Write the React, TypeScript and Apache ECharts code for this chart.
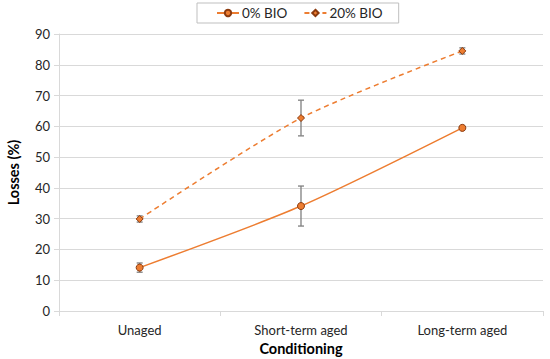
import React, { useEffect, useRef } from "react";
import * as echarts from "echarts";

const categories = ["Unaged", "Short-term aged", "Long-term aged"];
const bio0 = [14.1, 34.1, 59.5];
const bio0Err = [1.5, 6.5, 0.6];
const bio20 = [29.9, 62.7, 84.5];
const bio20Err = [1.0, 5.8, 1.0];
const yTicks = { min: 0, max: 90, interval: 10 };

const FONT = "Lato, 'Open Sans', sans-serif";
const ORANGE = "#ED7D31";
const BROWN = "#8B3A0E";

function errData(vals: number[], errs: number[]) {
  return vals.map((v, i) => [i, v - errs[i], v + errs[i]]);
}

function errRender(params: any, api: any) {
  const x = api.value(0);
  const lo = api.coord([x, api.value(1)]);
  const hi = api.coord([x, api.value(2)]);
  const w = 3;
  const style = { stroke: "#7F7F7F", lineWidth: 1.3 };
  return {
    type: "group",
    children: [
      { type: "line", shape: { x1: lo[0], y1: lo[1], x2: hi[0], y2: hi[1] }, style },
      { type: "line", shape: { x1: lo[0] - w, y1: lo[1], x2: lo[0] + w, y2: lo[1] }, style },
      { type: "line", shape: { x1: hi[0] - w, y1: hi[1], x2: hi[0] + w, y2: hi[1] }, style },
    ],
  };
}

export default function App() {
  const ref = useRef<HTMLDivElement>(null);
  useEffect(() => {
    if (!ref.current) return;
    const chart = echarts.init(ref.current, undefined, { renderer: "svg" });
    chart.setOption({
      animation: false,
      backgroundColor: "#fff",
      textStyle: { fontFamily: FONT },
      legend: {
        top: 3,
        left: 197,
        data: ["0% BIO", "20% BIO"],
        borderColor: "#BFBFBF",
        borderWidth: 1,
        padding: [3, 16, 3, 19],
        itemWidth: 22,
        itemHeight: 8,
        itemGap: 16,
        textStyle: { fontFamily: FONT, fontSize: 13.5, color: "#262626", padding: [0, 0, 0, -2] },
      },
      grid: { left: 59, right: 7, top: 34, bottom: 48, outerBoundsMode: "none", containLabel: false },
      xAxis: {
        type: "category",
        data: categories,
        name: "Conditioning",
        nameLocation: "middle",
        nameGap: 30,
        nameTextStyle: { fontFamily: FONT, fontSize: 14.5, fontWeight: "bold", color: "#000" },
        axisLine: { lineStyle: { color: "#D9D9D9", width: 1 } },
        axisTick: { show: true, length: 5, lineStyle: { color: "#D9D9D9" } },
        axisLabel: { fontFamily: FONT, fontSize: 13, color: "#262626", margin: 12 },
      },
      yAxis: {
        type: "value",
        min: yTicks.min,
        max: yTicks.max,
        interval: yTicks.interval,
        name: "Losses (%)",
        nameLocation: "middle",
        nameGap: 38,
        nameTextStyle: { fontFamily: FONT, fontSize: 14.5, fontWeight: "bold", color: "#000" },
        axisLine: { show: true, lineStyle: { color: "#D9D9D9" } },
        axisTick: { show: true, length: 5, lineStyle: { color: "#D9D9D9" } },
        axisLabel: { fontFamily: FONT, fontSize: 13, color: "#262626", margin: 9 },
        splitLine: { lineStyle: { color: "#D9D9D9", width: 1 } },
      },
      series: [
        {
          type: "custom",
          name: "err0",
          renderItem: errRender,
          data: errData(bio0, bio0Err),
          encode: { x: 0, y: [1, 2] },
          z: 1,
        },
        {
          type: "custom",
          name: "err20",
          renderItem: errRender,
          data: errData(bio20, bio20Err),
          encode: { x: 0, y: [1, 2] },
          z: 1,
        },
        {
          type: "line",
          name: "0% BIO",
          data: bio0,
          smooth: 0.25,
          symbol: "circle",
          symbolSize: 7,
          lineStyle: { color: ORANGE, width: 1.5 },
          itemStyle: { color: ORANGE, borderColor: BROWN, borderWidth: 1 },
          z: 3,
        },
        {
          type: "line",
          name: "20% BIO",
          data: bio20,
          smooth: 0.25,
          symbol: "diamond",
          symbolSize: 7,
          lineStyle: { color: ORANGE, width: 1.5, type: [5, 4] },
          itemStyle: { color: ORANGE, borderColor: BROWN, borderWidth: 1 },
          z: 3,
        },
      ],
    });
    return () => chart.dispose();
  }, []);
  return <div ref={ref} style={{ width: 550, height: 359, position: "absolute", left: 0, top: 0 }} />;
}
